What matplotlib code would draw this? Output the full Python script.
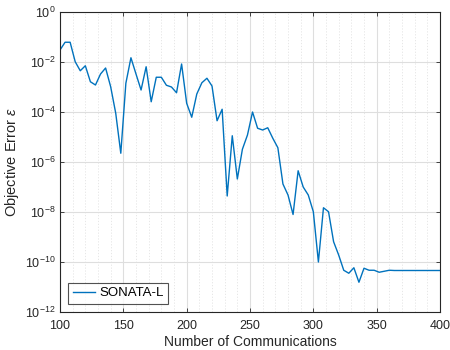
import numpy as np
import matplotlib
matplotlib.use("Agg")
import matplotlib.pyplot as plt
from matplotlib.ticker import FixedLocator, MultipleLocator, LogFormatterSciNotation

plt.rcParams['font.family'] = ['Liberation Sans', 'DejaVu Sans']
plt.rcParams['mathtext.fontset'] = 'custom'
plt.rcParams['mathtext.rm'] = 'Liberation Sans'
plt.rcParams['mathtext.it'] = 'Liberation Sans:italic'

# communication rounds and log10 of the objective error
comms = list(range(100, 401, 4))
log_err = [-1.52, -1.21, -1.21, -1.99, -2.35, -2.15, -2.79, -2.92, -2.48, -2.24,
           -2.99, -4.05, -5.65, -2.85, -1.83, -2.48, -3.12, -2.19, -3.59, -2.61,
           -2.61, -2.93, -3.00, -3.23, -2.08, -3.65, -4.21, -3.28, -2.83, -2.65,
           -2.96, -4.35, -3.89, -7.36, -4.95, -6.68, -5.49, -4.92, -4.00, -4.65,
           -4.72, -4.63, -5.05, -5.43, -6.88, -7.32, -8.10, -6.35, -7.00, -7.32,
           -7.99, -10.00, -7.83, -7.99, -9.19, -9.72, -10.33, -10.45, -10.23, -10.81,
           -10.25, -10.33, -10.33, -10.41, -10.37, -10.33,
           -10.34, -10.34, -10.34, -10.34, -10.34, -10.34, -10.34, -10.34, -10.34, -10.34]
err = 10.0 ** np.array(log_err)

blue = (0, 0.447, 0.741)
axc = (0.15, 0.15, 0.15)

fig = plt.figure(figsize=(4.5, 3.5), dpi=100)
ax = fig.add_axes([60 / 450, 38 / 350, 380 / 450, 300 / 350])

ax.semilogy(comms, err, color=blue, lw=1.0, label="SONATA-L")

ax.set_xlim(100, 400)
ax.set_ylim(1e-12, 1e0)
ax.xaxis.set_major_locator(MultipleLocator(50))
ax.xaxis.set_minor_locator(MultipleLocator(10))
ax.yaxis.set_major_locator(FixedLocator([10.0 ** k for k in range(-12, 1, 2)]))
ax.yaxis.set_minor_locator(FixedLocator([]))
ax.yaxis.set_major_formatter(LogFormatterSciNotation())

ax.grid(which='major', color=(0.87, 0.87, 0.87), lw=0.8)
ax.grid(which='minor', axis='x', color=(0.89, 0.89, 0.89), lw=0.6, ls=(0, (1.5, 2)))
ax.set_axisbelow(True)

for s in ax.spines.values():
    s.set_color(axc)
    s.set_linewidth(0.8)
ax.tick_params(which='both', direction='in', top=True, right=True, colors=axc,
               labelsize=9, length=3, width=0.6)
ax.tick_params(axis='x', pad=6)
ax.tick_params(axis='y', pad=3)
ax.tick_params(which='minor', length=0)
for lbl in ax.get_xticklabels() + ax.get_yticklabels():
    lbl.set_color(axc)

ax.set_xlabel("Number of Communications", fontsize=10, color=axc, labelpad=2)
ax.set_ylabel(r"Objective Error $\epsilon$", fontsize=10.5, color=axc, labelpad=3)

leg = ax.legend(loc='lower left', fontsize=9.5, frameon=True, fancybox=False,
                borderaxespad=0.6, handlelength=1.7, handletextpad=0.3,
                borderpad=0.35)
leg.get_frame().set_edgecolor(axc)
leg.get_frame().set_linewidth(0.8)

fig.savefig("out.png", dpi=100)
